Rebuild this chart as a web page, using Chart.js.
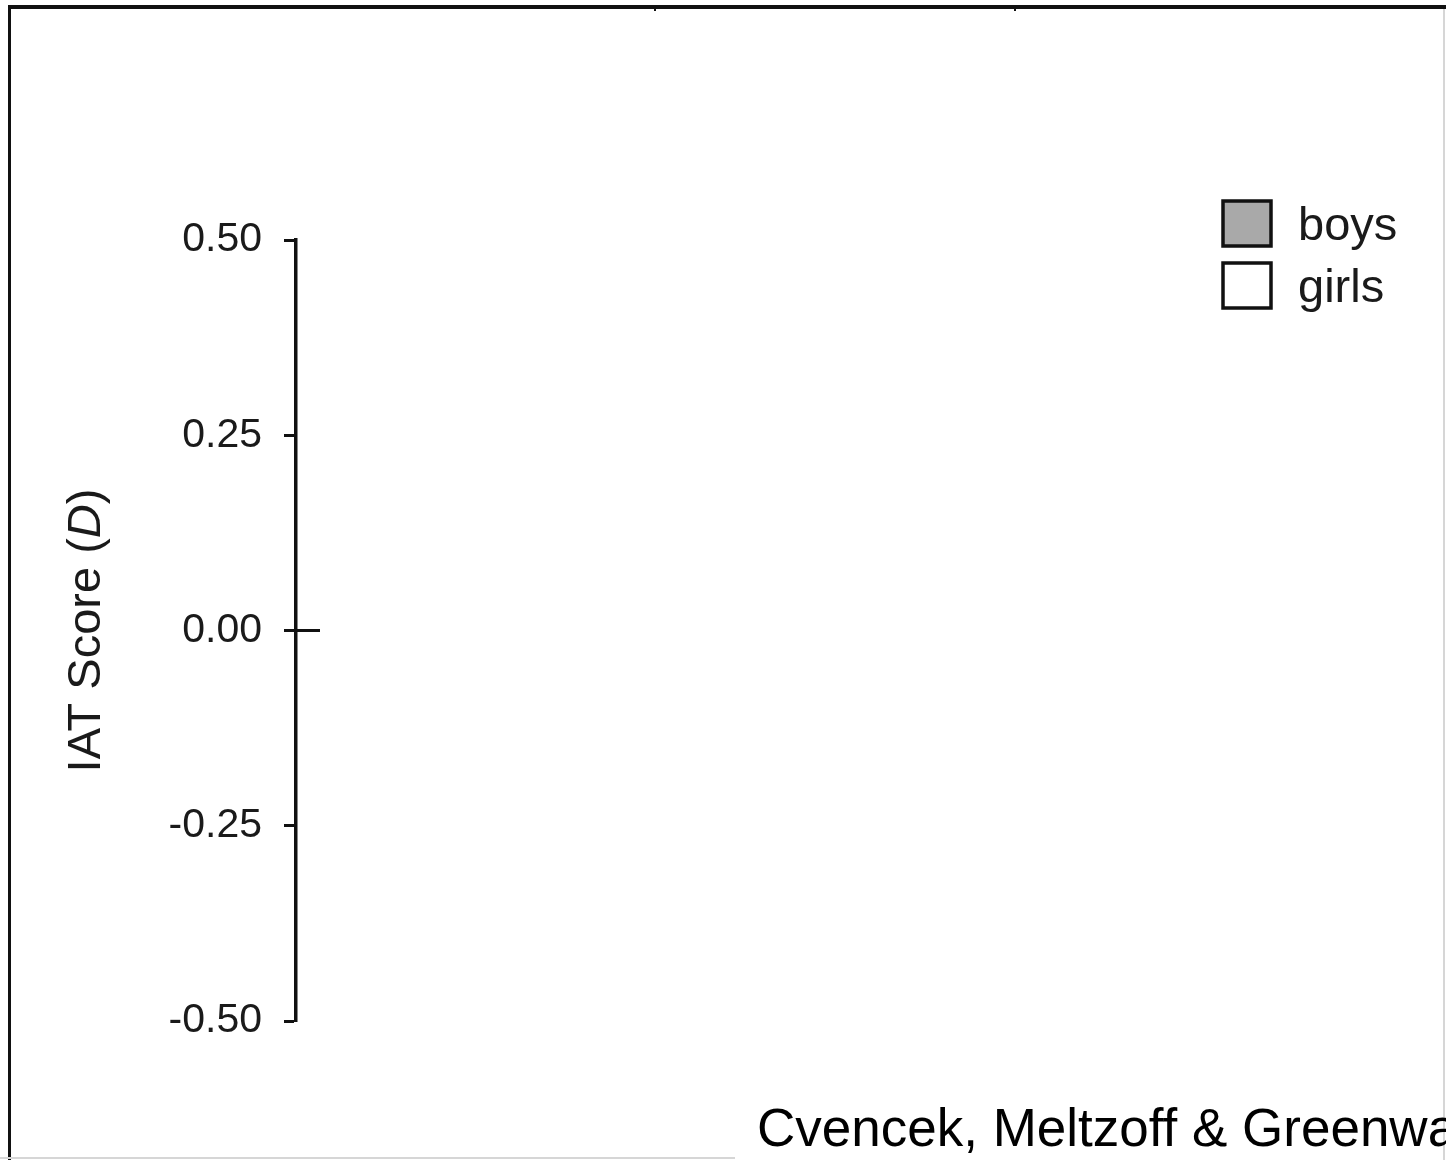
<!DOCTYPE html>
<html>
<head>
<meta charset="utf-8">
<title>IAT Score (D)</title>
<script src="https://cdn.jsdelivr.net/npm/chart.js@4/dist/chart.umd.min.js"></script>
<style>
  html, body { margin: 0; padding: 0; background: #fff; }
  #chart-container { position: relative; width: 1446px; height: 1160px; }
</style>
</head>
<body>
<div id="chart-container"><canvas id="chart"></canvas></div>
<script>
// values (no bars are shown yet)
const categories = [""];
const boysScores = [null];
const girlsScores = [null];
const yTickValues = [-0.5, -0.25, 0, 0.25, 0.5];
const yTitleParts = [["IAT Score (", false], ["D", true], [")", false]];
const caption = "Cvencek, Meltzoff & Greenwald";

const FONT = '"Liberation Sans", Arial, sans-serif';
const INK = "#1a1a1a";

// white page, frame lines like the scanned figure
const framePlugin = {
  id: "frame",
  beforeDraw(chart) {
    const ctx = chart.ctx;
    ctx.save();
    ctx.fillStyle = "#fff";
    ctx.fillRect(0, 0, chart.width, chart.height);
    ctx.fillStyle = "#111";
    ctx.fillRect(8, 5, chart.width - 8, 4);
    ctx.fillRect(8, 5, 3, chart.height - 5);
    ctx.fillRect(654, 9, 2, 2);
    ctx.fillRect(1014, 9, 2, 2);
    ctx.fillStyle = "#d6d6d6";
    ctx.fillRect(1443, 9, 2, chart.height - 9);
    ctx.fillRect(0, 1157, 735, 2);
    ctx.restore();
  },
};

// short stub to the right of the axis at zero, y title with italic D, legend, caption
const overlayPlugin = {
  id: "overlay",
  afterDraw(chart) {
    const ctx = chart.ctx;
    const y = chart.scales.y;
    ctx.save();

    const y0 = y.getPixelForValue(0);
    ctx.strokeStyle = "#111";
    ctx.lineWidth = 3;
    ctx.beginPath();
    ctx.moveTo(chart.chartArea.left, y0);
    ctx.lineTo(chart.chartArea.left + 24, y0);
    ctx.stroke();

    // y-axis title
    ctx.save();
    ctx.translate(100, (chart.chartArea.top + chart.chartArea.bottom) / 2);
    ctx.rotate(-Math.PI / 2);
    ctx.fillStyle = INK;
    ctx.textBaseline = "alphabetic";
    let total = 0;
    yTitleParts.forEach(([t, it]) => {
      ctx.font = (it ? "italic " : "") + "47px " + FONT;
      total += ctx.measureText(t).width;
    });
    let x = -total / 2;
    yTitleParts.forEach(([t, it]) => {
      ctx.font = (it ? "italic " : "") + "47px " + FONT;
      ctx.textAlign = "left";
      ctx.fillText(t, x, 0);
      x += ctx.measureText(t).width;
    });
    ctx.restore();

    // legend
    chart.data.datasets.forEach((ds, i) => {
      const bx = 1223, by = 201 + i * 62;
      ctx.fillStyle = ds.backgroundColor;
      ctx.fillRect(bx, by, 48, 45);
      ctx.strokeStyle = "#111";
      ctx.lineWidth = 3.5;
      ctx.strokeRect(bx, by, 48, 45);
      ctx.fillStyle = INK;
      ctx.font = "47px " + FONT;
      ctx.textAlign = "left";
      ctx.textBaseline = "alphabetic";
      ctx.fillText(ds.label, 1298, by + 39);
    });

    // caption
    ctx.fillStyle = "#000";
    ctx.font = "53px " + FONT;
    ctx.textAlign = "left";
    ctx.textBaseline = "alphabetic";
    ctx.fillText(caption, 757, 1146);

    ctx.restore();
  },
};

new Chart(document.getElementById("chart").getContext("2d"), {
  type: "bar",
  data: {
    labels: categories,
    datasets: [
      { label: "boys", data: boysScores, backgroundColor: "#a9a9a9", borderColor: "#111", borderWidth: 3 },
      { label: "girls", data: girlsScores, backgroundColor: "#ffffff", borderColor: "#111", borderWidth: 3 },
    ],
  },
  options: {
    responsive: true,
    maintainAspectRatio: false,
    animation: false,
    layout: { padding: { top: 240, bottom: 139, left: 0, right: 6 } },
    plugins: { legend: { display: false }, tooltip: { enabled: false } },
    scales: {
      x: { display: false },
      y: {
        min: -0.5,
        max: 0.5,
        afterFit: (scale) => { scale.width = 296; },
        afterBuildTicks: (scale) => { scale.ticks = yTickValues.map((v) => ({ value: v })); },
        border: { display: true, color: "#111", width: 3.5 },
        grid: { drawOnChartArea: false, drawTicks: true, tickLength: 12, tickWidth: 3, tickColor: "#111" },
        ticks: {
          color: INK,
          padding: 22,
          font: { family: FONT, size: 41 },
          callback: (v) => Number(v).toFixed(2),
        },
      },
    },
  },
  plugins: [framePlugin, overlayPlugin],
});
</script>
</body>
</html>
